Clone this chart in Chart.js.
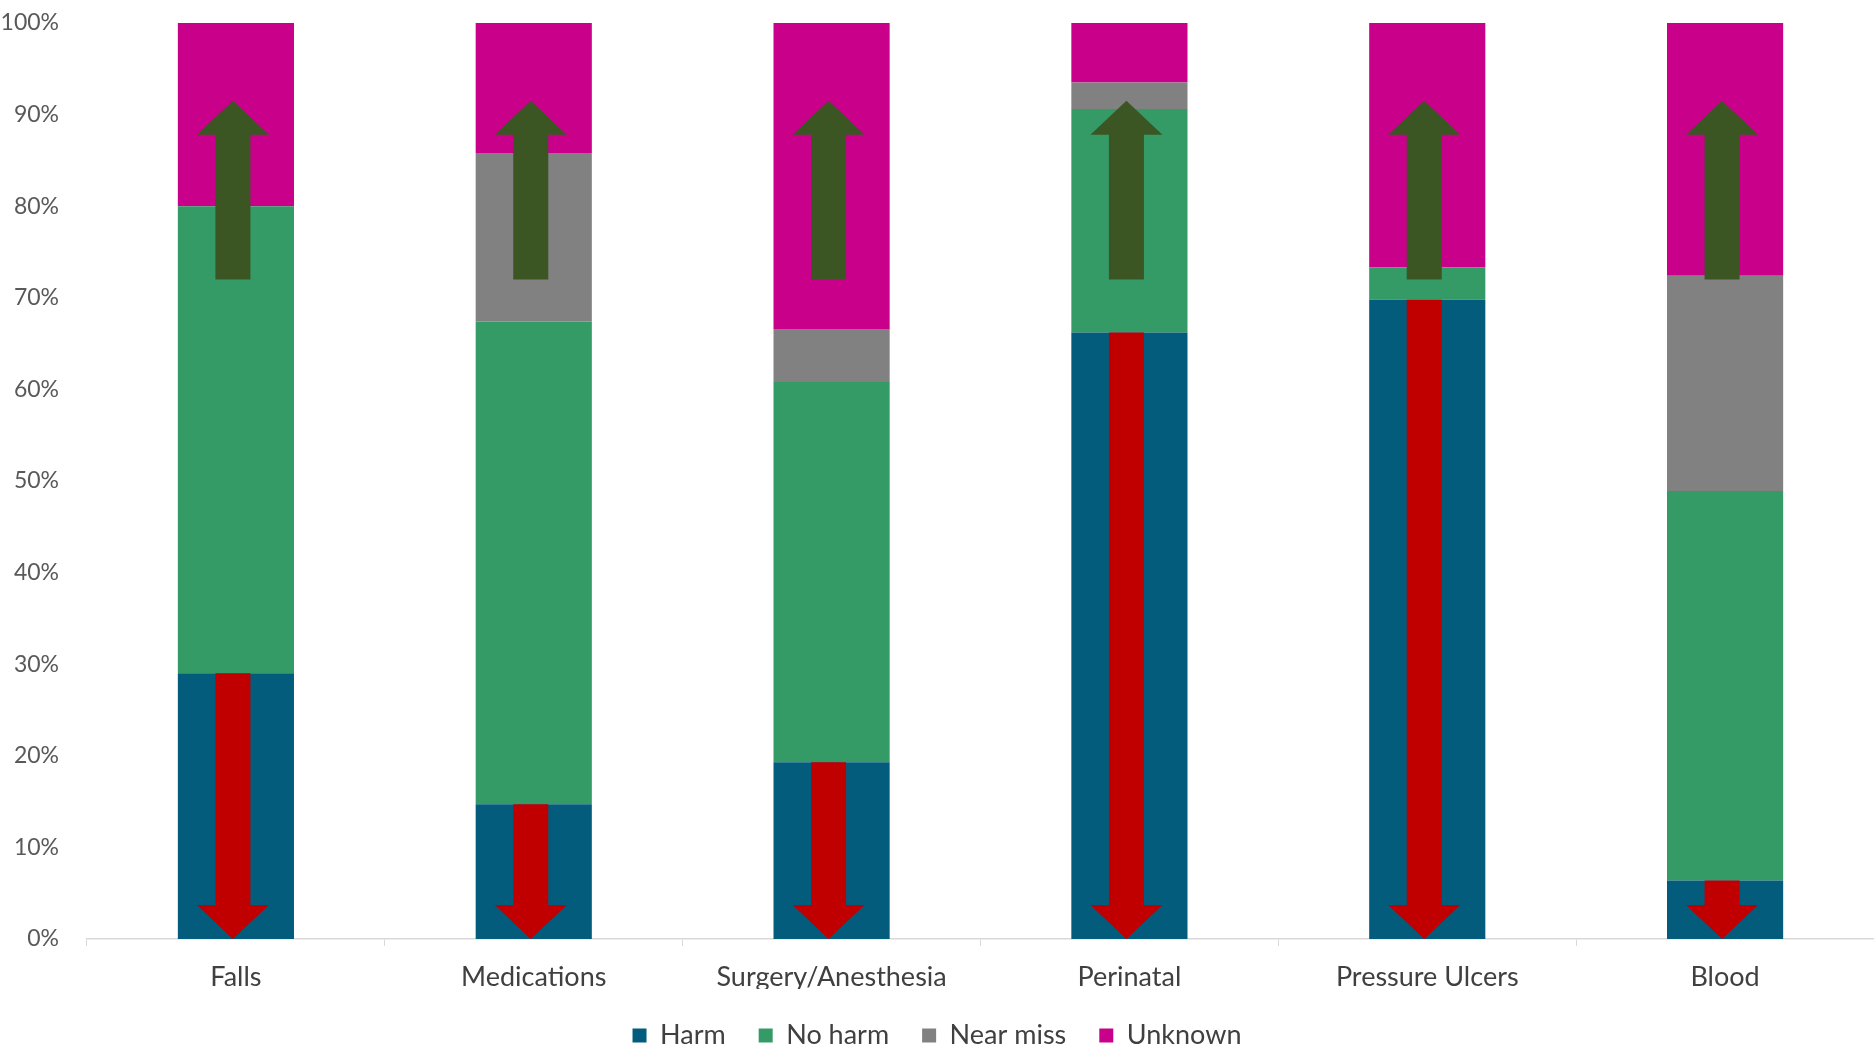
<!DOCTYPE html>
<html>
<head>
<meta charset="utf-8">
<script src="https://cdn.jsdelivr.net/npm/chart.js@4/dist/chart.umd.min.js"></script>
<style>
  html, body { margin: 0; padding: 0; background: #ffffff; }
  #wrap { width: 1874px; height: 1049px; }
</style>
</head>
<body>
<div id="wrap"><canvas id="c" width="1874" height="1049"></canvas></div>
<script>
// Event categories
const categories = ['Falls', 'Medications', 'Surgery/Anesthesia', 'Perinatal', 'Pressure Ulcers', 'Blood'];

// Share of reported events by outcome (percent of each category)
const harm     = [29.0, 14.7, 19.3, 66.2, 69.8, 6.4];
const noHarm   = [51.0, 52.7, 41.5, 24.4, 3.5, 42.5];
const nearMiss = [0.0, 18.4, 5.8, 2.9, 0.0, 23.5];
const unknown  = [20.0, 14.2, 33.4, 6.5, 26.7, 27.6];

// Trend arrows: red arrows run from the top of "Harm" down to 0,
// green arrows point upward between these two levels
const upArrowFrom = [72, 72, 72, 72, 72, 72];
const upArrowTo   = [91.5, 91.5, 91.5, 91.5, 91.5, 91.5];

// Y axis tick values
const yTicks = [0, 10, 20, 30, 40, 50, 60, 70, 80, 90, 100];

const colors = {
  harm: '#035C7C',
  noHarm: '#349A66',
  nearMiss: '#818181',
  unknown: '#C9008A',
  down: '#C00000',
  up: '#3B5623'
};

function drawArrow(ctx, x, yTail, yTip, shaftW, headW, headLen, color) {
  const dir = yTip > yTail ? 1 : -1;
  const yHeadBase = yTip - dir * headLen;
  ctx.save();
  ctx.fillStyle = color;
  ctx.beginPath();
  ctx.moveTo(x - shaftW / 2, yTail);
  ctx.lineTo(x + shaftW / 2, yTail);
  ctx.lineTo(x + shaftW / 2, yHeadBase);
  ctx.lineTo(x + headW / 2, yHeadBase);
  ctx.lineTo(x, yTip);
  ctx.lineTo(x - headW / 2, yHeadBase);
  ctx.lineTo(x - shaftW / 2, yHeadBase);
  ctx.closePath();
  ctx.fill();
  ctx.restore();
}

const arrowPlugin = {
  id: 'trendArrows',
  afterDatasetsDraw(chart) {
    const { ctx, scales: { x, y } } = chart;
    categories.forEach((c, i) => {
      const cx = x.getPixelForValue(i) - 3;
      drawArrow(ctx, cx, y.getPixelForValue(harm[i]), y.getPixelForValue(0), 35, 72, 34, colors.down);
      drawArrow(ctx, cx, y.getPixelForValue(upArrowFrom[i]), y.getPixelForValue(upArrowTo[i]), 35, 72, 34, colors.up);
    });
  }
};

const fontFamily = 'Lato, "Open Sans", sans-serif';

new Chart(document.getElementById('c'), {
  type: 'bar',
  data: {
    labels: categories,
    datasets: [
      { label: 'Harm', data: harm, backgroundColor: colors.harm },
      { label: 'No harm', data: noHarm, backgroundColor: colors.noHarm },
      { label: 'Near miss', data: nearMiss, backgroundColor: colors.nearMiss },
      { label: 'Unknown', data: unknown, backgroundColor: colors.unknown }
    ]
  },
  options: {
    responsive: false,
    animation: false,
    devicePixelRatio: 1,
    layout: { padding: { top: 23, right: 0, bottom: -10, left: 0 } },
    datasets: { bar: { categoryPercentage: 1, barPercentage: 0.39, borderWidth: 0 } },
    scales: {
      x: {
        stacked: true,
        afterFit(scale) { scale.height = 50; scale.paddingLeft = 0; scale.paddingRight = 0; },
        grid: { display: true, drawOnChartArea: false, drawTicks: true, tickLength: 7, color: '#D9D9D9' },
        border: { display: true, color: '#D9D9D9', width: 1.5 },
        ticks: { color: '#404040', font: { family: fontFamily, size: 27 }, padding: 15 }
      },
      y: {
        stacked: true,
        min: 0,
        max: 100,
        afterBuildTicks(scale) { scale.ticks = yTicks.map(v => ({ value: v })); },
        afterFit(scale) { scale.width = 87; scale.paddingTop = 0; scale.paddingBottom = 0; },
        grid: { display: false },
        border: { display: false },
        ticks: {
          color: '#595959',
          font: { family: fontFamily, size: 23 },
          padding: 20,
          callback: v => v + '%'
        }
      }
    },
    plugins: {
      legend: {
        position: 'bottom',
        labels: {
          color: '#404040',
          font: { family: fontFamily, size: 27 },
          boxWidth: 14,
          boxHeight: 14,
          padding: 33
        }
      },
      tooltip: { enabled: false }
    }
  },
  plugins: [arrowPlugin]
});
</script>
</body>
</html>
